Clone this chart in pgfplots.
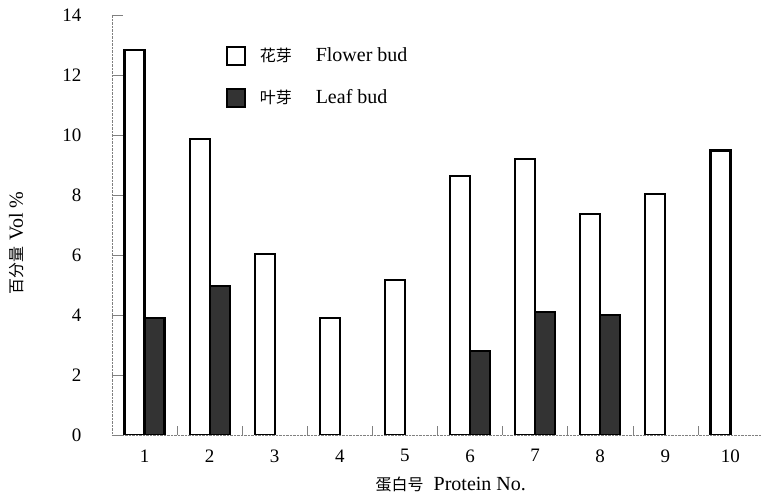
\documentclass[border=0pt]{standalone}
\usepackage{pgfplots}
\pgfplotsset{compat=1.18}
\usepackage{fontspec}
\setmainfont{Liberation Serif}
\newfontfamily\cjk{Noto Sans CJK SC}

\pgfplotsset{
    sqlegend/.style={legend image code/.code={\draw[##1, line width=2pt] (0pt,-9pt) rectangle (18pt,9pt);}},
}
\newcommand{\lat}[1]{{\fontsize{20}{24}\selectfont #1}}
\newcommand{\zh}[1]{{\cjk\fontsize{16}{18}\selectfont #1}}

\begin{document}
\fontsize{19}{22}\selectfont
\begin{tikzpicture}
\useasboundingbox (-112pt,-60pt) rectangle (649pt,435pt);
\begin{axis}[
    at={(0pt,0pt)}, anchor=south west,
    scale only axis,
    width=649pt, height=420pt,
    xmin=0.5, xmax=10.47, ymin=0, ymax=14,
    axis x line*=bottom, axis y line*=left,
    axis line style={gray, densely dotted, thin, -},
    tick align=inside,
    major tick length=11pt,
    ytick={0,2,...,14},
    y tick style={gray, thin},
    xtick={1,...,10},
    x tick style={draw=none},
    extra x ticks={1.5,2.5,...,9.5},
    extra x tick labels={},
    extra x tick style={x tick style={draw=gray, thin}, major tick length=9pt},
    /pgf/number format/assume math mode=true,
    yticklabel style={xshift=-24pt},
    xticklabel style={yshift=-8pt},
    tick label style={font=\fontsize{19}{22}\selectfont},
    xlabel={\zh{蛋白号}\hspace{10pt}\lat{Protein No.}},
    ylabel={\zh{百分量}\hspace{6pt}\lat{Vol \%}},
    every axis x label/.style={at={(axis description cs:0.522,-0.119)}, anchor=center},
    every axis y label/.style={at={(axis description cs:-0.147,0.457)}, anchor=center, rotate=90},
    legend style={at={(0.175,0.928)}, anchor=north west, draw=none, fill=none,
        inner sep=0pt, row sep=21pt},
    legend cell align=left,
]
\addplot[ybar, bar width=20pt, bar shift=-10pt, fill=white, draw=black, line width=2.2pt, sqlegend]
    coordinates {(1,12.82) (2,9.87) (3,6.02) (4,3.89) (5,5.17) (6,8.64) (7,9.20) (8,7.36) (9,8.02) (10,9.48)};
\addlegendentry{\hspace{12pt}\zh{花芽}\hspace{24pt}\lat{Flower bud}}
\addplot[ybar, bar width=20pt, bar shift=10pt, fill=black!80, draw=black, line width=2.2pt, sqlegend]
    coordinates {(1,3.91) (2,4.97) (6,2.80) (7,4.11) (8,4.00)};
\addlegendentry{\hspace{12pt}\zh{叶芽}\hspace{24pt}\lat{Leaf bud}}
\end{axis}
\end{tikzpicture}
\end{document}
